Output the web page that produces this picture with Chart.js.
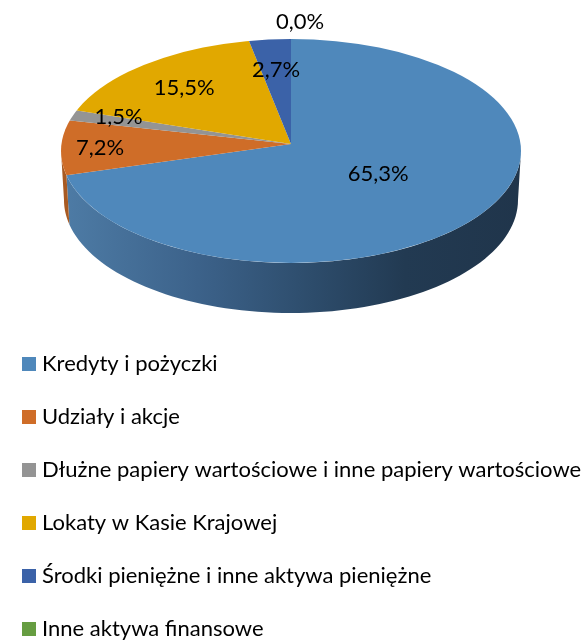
<!DOCTYPE html>
<html><head><meta charset="utf-8">
<script src="https://cdn.jsdelivr.net/npm/chart.js@4"></script>
<style>html,body{margin:0;padding:0;background:#fff}canvas{display:block}</style>
</head><body><canvas id="c" width="587" height="641"></canvas>
<script>
const categories = ["Kredyty i pożyczki","Udziały i akcje","Dłużne papiery wartościowe i inne papiery wartościowe","Lokaty w Kasie Krajowej","Środki pieniężne i inne aktywa pieniężne","Inne aktywa finansowe"];
const values = [65.3,7.2,1.5,15.5,2.7,0.0];
const colors = ["#4f88bb","#cf6d28","#949494","#e1a800","#3b62a8","#669d41"];
const FONT = "Lato, Carlito, sans-serif";

// oblique projection of the circular pie on to the page
const view = {cx:291, cy:144, R:230, kTop:105/230, kBottom:119/230};
const rim = {cy:151, ry:112};
const floor = {rx:227, cy:200, ry:113};
// placement of each value label: fraction of radius, then a small nudge
const labelPlacement = [[.5,-4,-6],[.83,0,2],[.78,0,-5],[.71,0,0],[.71,0,0],[1.17,9,1]];

function swatch(color){
  const c=document.createElement('canvas');c.width=14;c.height=14;
  const x=c.getContext('2d');x.fillStyle=color;x.fillRect(0,0,14,14);
  return c;
}
// parameter on the rim ellipse hit by the ray leaving the pie centre at angle t
function rimParam(t){
  const {cx,cy,R,kTop,kBottom} = view;
  const dx=R*Math.cos(t), dy=R*(Math.sin(t)>0?kBottom:kTop)*Math.sin(t);
  const off=(cy-rim.cy)/rim.ry, ux=dx/R, uy=dy/rim.ry;
  const A=ux*ux+uy*uy, B=2*off*uy, C=off*off-1;
  const u=(-B+Math.sqrt(B*B-4*A*C))/(2*A);
  return Math.atan2(off+u*uy, u*ux);
}

const pie3d = {
  id:'pie3d',
  beforeDraw(chart){
    const lg = chart.legend, p = lg.options.labels.padding;
    lg.left = 27 - p;
    lg.top = 353 - p;
    lg.bottom = 2000;
  },
  beforeDatasetsDraw(chart){
    const ctx = chart.ctx, meta = chart.getDatasetMeta(0);
    const {cx,cy,R,kBottom} = view;
    const grad = ctx.createLinearGradient(60,0,520,0);
    grad.addColorStop(0,"#4e7ca6");
    grad.addColorStop(.3,"#3c628a");
    grad.addColorStop(.55,"#2d4c6b");
    grad.addColorStop(.75,"#223a52");
    grad.addColorStop(1,"#20354b");
    meta.data.forEach((arc,i)=>{
      if (arc.endAngle<=0 || arc.startAngle>=Math.PI) return;
      const a = arc.startAngle<=0 ? 0 : rimParam(arc.startAngle);
      const b = arc.endAngle>=Math.PI ? Math.PI : rimParam(arc.endAngle);
      const n = 80;
      ctx.beginPath();
      for(let s=0;s<=n;s++){const t=a+(b-a)*s/n;
        ctx.lineTo(cx+R*Math.cos(t), rim.cy+rim.ry*Math.sin(t));}
      for(let s=n;s>=0;s--){const t=a+(b-a)*s/n;
        ctx.lineTo(cx+floor.rx*Math.cos(t), floor.cy+floor.ry*Math.sin(t));}
      ctx.closePath();
      ctx.fillStyle = i===0 ? grad : "#a85a22";
      ctx.fill();
    });
    // top face: the library's own arcs, through the projection, trimmed to the rim
    const ca = chart.chartArea, ox=(ca.left+ca.right)/2, oy=(ca.top+ca.bottom)/2;
    [view.kTop,kBottom].forEach((k,idx)=>{
      ctx.save();
      ctx.beginPath();
      ctx.ellipse(cx,rim.cy,R,rim.ry,0,0,Math.PI*2);
      ctx.clip();
      ctx.beginPath();
      if(idx===0) ctx.rect(0,0,587,cy); else ctx.rect(0,cy,587,641-cy);
      ctx.clip();
      ctx.transform(1,0,0,k,cx-ox,cy-oy*k);
      meta.controller.draw();
      ctx.restore();
    });
    return false;
  },
  afterDraw(chart){
    const ctx = chart.ctx, meta = chart.getDatasetMeta(0);
    const {cx,cy,R,kTop,kBottom} = view;
    ctx.save();
    ctx.fillStyle="#000";
    ctx.font="22px "+FONT;
    ctx.textAlign="center";ctx.textBaseline="middle";
    meta.data.forEach((arc,i)=>{
      const m=(arc.startAngle+arc.endAngle)/2, [f,dx,dy]=labelPlacement[i];
      const s=Math.sin(m), k=s>0?kBottom:kTop;
      const x=cx+R*f*Math.cos(m)+dx, y=cy+R*f*k*s+dy;
      ctx.fillText(values[i].toFixed(1).replace('.',',')+'%',x,y);
    });
    ctx.restore();
  }
};

new Chart(document.getElementById('c'),{
  type:'pie',
  data:{labels:categories,datasets:[{data:values,backgroundColor:colors,borderWidth:0}]},
  options:{
    responsive:false,animation:false,radius:view.R+30,
    layout:{padding:{right:5}},
    plugins:{
      tooltip:{enabled:false},
      legend:{position:'chartArea',align:'start',
        labels:{usePointStyle:true,pointStyleWidth:4,boxHeight:14,padding:31,color:"#000",font:{family:FONT,size:22},
          generateLabels:()=>categories.map((text,i)=>({text,index:i,fillStyle:colors[i],strokeStyle:colors[i],lineWidth:0,fontColor:"#000",hidden:false,pointStyle:swatch(colors[i])}))}}
    }
  },
  plugins:[pie3d]
});
</script></body></html>
